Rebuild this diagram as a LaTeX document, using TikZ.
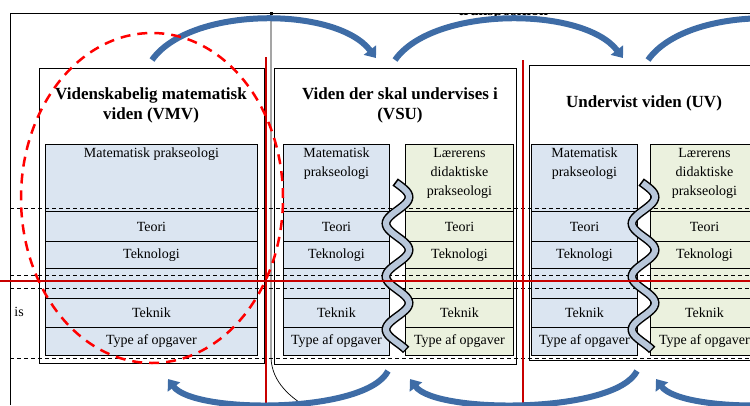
\documentclass[tikz,border=0pt]{standalone}
\usepackage{fontspec}
\setmainfont{Liberation Serif}
\usetikzlibrary{arrows.meta,shapes.geometric}

\definecolor{praxblue}{RGB}{219,229,241}
\definecolor{praxgreen}{RGB}{235,241,222}
\definecolor{linkfill}{RGB}{184,199,218}
\definecolor{arcblue}{RGB}{62,108,166}
\definecolor{cutred}{RGB}{200,0,0}

\tikzset{
  cell/.style={draw, line width=0.9pt, inner sep=0pt, anchor=north west,
    font=\fontsize{14}{19}\selectfont},
  hdr/.style={anchor=north, yshift=-4pt, align=center, inner sep=0pt,
    font=\fontsize{14}{19}\selectfont},
  titletxt/.style={align=center, inner sep=0pt,
    font=\bfseries\fontsize{17}{20}\selectfont},
  frame/.style={draw, line width=1pt},
  level/.style={draw, line width=0.9pt, dash pattern=on 4pt off 3pt},
  cut/.style={draw=cutred, line width=2.2pt},
  transfer/.style={draw=arcblue, line width=6pt,
    -{Triangle[width=15pt,length=10pt]}},
  zone/.style={draw=red, line width=2.5pt, dash pattern=on 10pt off 7pt}
}

% one praxeology column: name, left x, width, fill, header text
\newcommand\praxcol[5]{%
  \node[cell, fill=#4, minimum width=#3, minimum height=67,
        label={[hdr]north:#5}] (#1h) at (#2,144) {};
  \node[cell, fill=#4, minimum width=#3, minimum height=30] (#1a) at (#2,211) {Teori};
  \node[cell, fill=#4, minimum width=#3, minimum height=27] (#1b) at (#2,241) {Teknologi};
  \node[cell, fill=#4, minimum width=#3, minimum height=30] (#1c) at (#2,268) {};
  \node[cell, fill=#4, minimum width=#3, minimum height=29] (#1d) at (#2,298) {Teknik};
  \node[cell, fill=#4, minimum width=#3, minimum height=28] (#1e) at (#2,327) {Type af opgaver};
}

% twisted link between two columns, centred at x = #1
\newcommand\twistlink[1]{%
  \draw[line width=9pt, black] plot[domain=182:350, samples=90, smooth]
    ({#1+11.5*sin((\x-197)*6.79+90)}, \x);
  \draw[line width=6pt, linkfill] plot[domain=183:349, samples=90, smooth]
    ({#1+11.5*sin((\x-197)*6.79+90)}, \x);
}

\begin{document}
\begin{tikzpicture}[x=1pt, y=-1pt]
\useasboundingbox (0,0) rectangle (750,405);
\clip (0,0) rectangle (750,405);

% heading, only its lowest part lies inside the frame
\begin{scope}
  \clip (440,13.2) rectangle (570,17);
  \node[font=\bfseries\fontsize{16}{19}\selectfont, anchor=base] (heading) at (503,15.5) {transposition};
\end{scope}

% outer frame
\coordinate (ftl) at (10,13);
\coordinate (ftr) at (750,13);
\coordinate (fbl) at (10,405);
\draw[frame] (fbl) -- (ftl) -- (ftr);
\node[font=\fontsize{14}{19}\selectfont, anchor=east, inner sep=0pt] (sidetxt) at (24,312) {is};

% the three knowledge boxes
\node[frame, fill=white, anchor=north west, minimum width=225, minimum height=295, inner sep=0pt] (vmv) at (39,68) {};
\node[frame, fill=white, anchor=north west, minimum width=242, minimum height=296, inner sep=0pt] (vsu) at (274,68) {};
\node[frame, fill=white, anchor=north west, minimum width=241, minimum height=295, inner sep=0pt] (uv) at (529,65) {};

\node[titletxt] (vmvt) at (151,105) {Videnskabelig matematisk\\viden (VMV)};
\node[titletxt] (vsut) at (400,105) {Viden der skal undervises i\\(VSU)};
\node[titletxt] (uvt) at (644,103) {Undervist viden (UV)};

% praxeologies
\praxcol{m1}{45}{212}{praxblue}{Matematisk prakseologi}
\praxcol{m2}{283}{106}{praxblue}{Matematisk\\prakseologi}
\praxcol{d2}{405}{108}{praxgreen}{Lærerens\\didaktiske\\prakseologi}
\praxcol{m3}{531}{106}{praxblue}{Matematisk\\prakseologi}
\praxcol{d3}{650}{108}{praxgreen}{Lærerens\\didaktiske\\prakseologi}

% level separators
\foreach \yy/\nm in {208/la, 275/lb, 288/lc, 358/ld} {
  \coordinate (\nm w) at (10,\yy);
  \coordinate (\nm e) at (750,\yy);
  \draw[level] (\nm w) -- (\nm e);
}

% links between mathematical and didactic praxeologies
\twistlink{397.5}
\twistlink{643.5}

% thin guide line
\coordinate (gtop) at (271,13);
\coordinate (gbend) at (271,358);
\coordinate (gend) at (312,410);
\fill (269.5,11.5) rectangle (272.5,14.5);
\draw[line width=0.7pt] (gtop) -- (gbend) .. controls (272,382) and (290,398) .. (gend);

% red cut lines
\coordinate (r1t) at (266,57);  \coordinate (r1b) at (266,405);
\coordinate (r2t) at (523,60);  \coordinate (r2b) at (523,405);
\coordinate (rhw) at (0,281);   \coordinate (rhe) at (750,281);
\draw[cut] (r1t) -- (r1b);
\draw[cut] (r2t) -- (r2b);
\draw[cut] (rhw) -- (rhe);

% transfer arrows on top
\coordinate (ta1) at (152,60);  \coordinate (ha1) at (376,58);
\coordinate (ta2) at (395,60);  \coordinate (ha2) at (623,58);
\coordinate (ta3) at (648,60);  \coordinate (ha3) at (870,58);
\draw[transfer] (ta1) .. controls (190,6) and (336,6) .. (ha1);
\draw[transfer] (ta2) .. controls (433,6) and (583,6) .. (ha2);
\draw[transfer] (ta3) .. controls (686,6) and (830,6) .. (ha3);

% transfer arrows below
\coordinate (tb1) at (388,371);  \coordinate (hb1) at (168,379);
\coordinate (tb2) at (637,371);  \coordinate (hb2) at (410,379);
\coordinate (tb3) at (880,371);  \coordinate (hb3) at (656,379);
\draw[transfer] (tb1) .. controls (366,414) and (194,414) .. (hb1);
\draw[transfer] (tb2) .. controls (615,414) and (436,414) .. (hb2);
\draw[transfer] (tb3) .. controls (858,414) and (682,414) .. (hb3);

% highlighted region
\node[zone, ellipse, minimum width=262, minimum height=330, inner sep=0pt] (focus) at (152,198) {};
\end{tikzpicture}
\end{document}
